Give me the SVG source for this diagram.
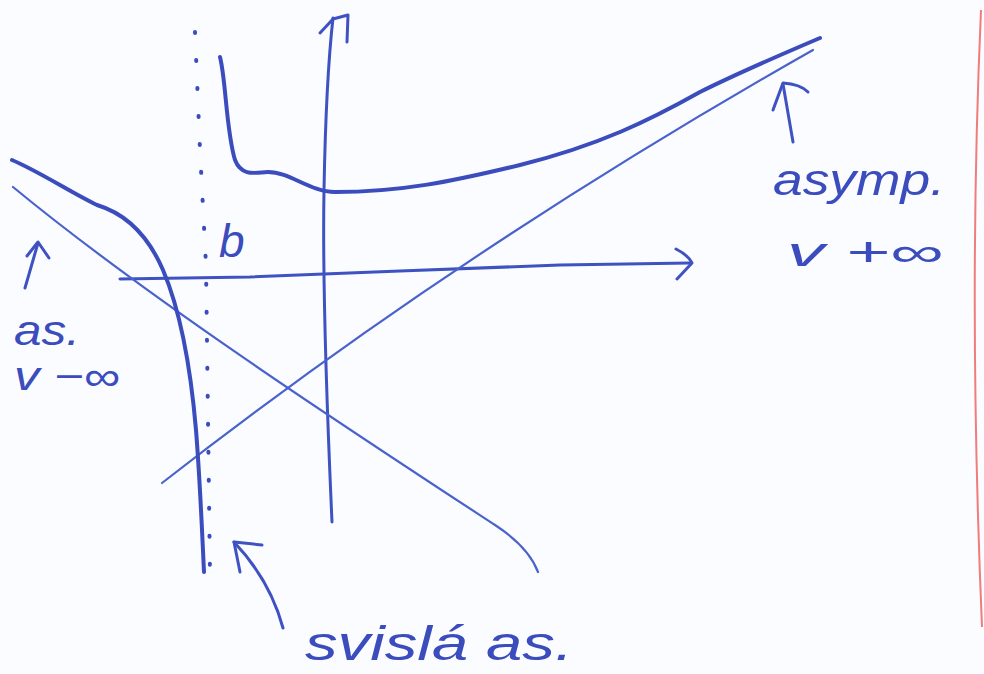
<svg xmlns="http://www.w3.org/2000/svg" width="984" height="674" viewBox="0 0 984 674">
<style>
.thick{fill:none;stroke:#3b4cbd;stroke-width:4;stroke-linecap:round;stroke-linejoin:round}
.thin{fill:none;stroke:#4a62cc;stroke-width:2.2;stroke-linecap:round;stroke-linejoin:round}
.mid{fill:none;stroke:#3f52c2;stroke-width:3;stroke-linecap:round;stroke-linejoin:round}
.dot{fill:none;stroke:#3b4cbd;stroke-width:4;stroke-linecap:round;stroke-dasharray:1 27}
.lbl{font-family:"Liberation Sans",Arial,sans-serif;font-style:italic;fill:#3b4cbd}
</style>
<rect width="984" height="674" fill="#fbfcff"/>
<path d="M981,10 Q968,300 982,627" fill="none" stroke="#f07c7c" stroke-width="2"/>
<g id="axes">
<path class="mid" d="M332,522 Q322,300 324,190 Q326,80 333,18"/>
<path class="mid" d="M320,33 L333,19 L348,15 L347,42"/>
<path class="mid" d="M120,279 L250,277 L400,271 L560,265 L690,263"/>
<path class="mid" d="M676,249 Q688,255 692,263 L677,279"/>
</g>
<g id="asymptotes">
<path class="dot" d="M195,32 L200,150 L206,265 L210,575"/>
<path class="thin" d="M162,483 Q460,250 813,50"/>
<path class="thin" d="M13,187 C150,300 350,430 495,525 C518,540 532,556 538,572"/>
</g>
<g id="curves">
<path class="thick" d="M220,57 C226,80 226,130 235,160 C242,178 258,172 268,172 C290,172 310,192 335,192 C400,192 450,182 520,165 C600,145 650,120 700,92 C740,72 780,55 820,38"/>
<path class="thick" d="M12,160 C40,172 70,192 97,205 C130,215 150,240 163,270 C180,310 190,360 196,430 C200,480 202,530 204,572"/>
</g>
<g id="label-plus">
<path class="mid" d="M793,142 L783,84"/>
<path class="mid" d="M773,110 L783,83 Q800,84 808,92"/>
<text class="lbl" x="773" y="195" font-size="44" textLength="172" lengthAdjust="spacingAndGlyphs">asymp.</text>
<text class="lbl" x="787" y="266" font-size="40" textLength="156" lengthAdjust="spacingAndGlyphs">v +∞</text>
</g>
<g id="label-minus">
<path class="mid" d="M25,288 L38,243"/>
<path class="mid" d="M27,256 L38,242 L49,258"/>
<text class="lbl" x="14" y="345" font-size="42" textLength="66" lengthAdjust="spacingAndGlyphs">as.</text>
<text class="lbl" x="14" y="390" font-size="40" textLength="106" lengthAdjust="spacingAndGlyphs">v −∞</text>
</g>
<g id="label-b">
<text class="lbl" x="219" y="257" font-size="46">b</text>
</g>
<g id="label-vertical">
<path class="mid" d="M283,628 Q270,580 234,542"/>
<path class="mid" d="M240,572 L234,542 L262,545"/>
<text class="lbl" x="305" y="660" font-size="48" textLength="268" lengthAdjust="spacingAndGlyphs">svislá as.</text>
</g>
</svg>
